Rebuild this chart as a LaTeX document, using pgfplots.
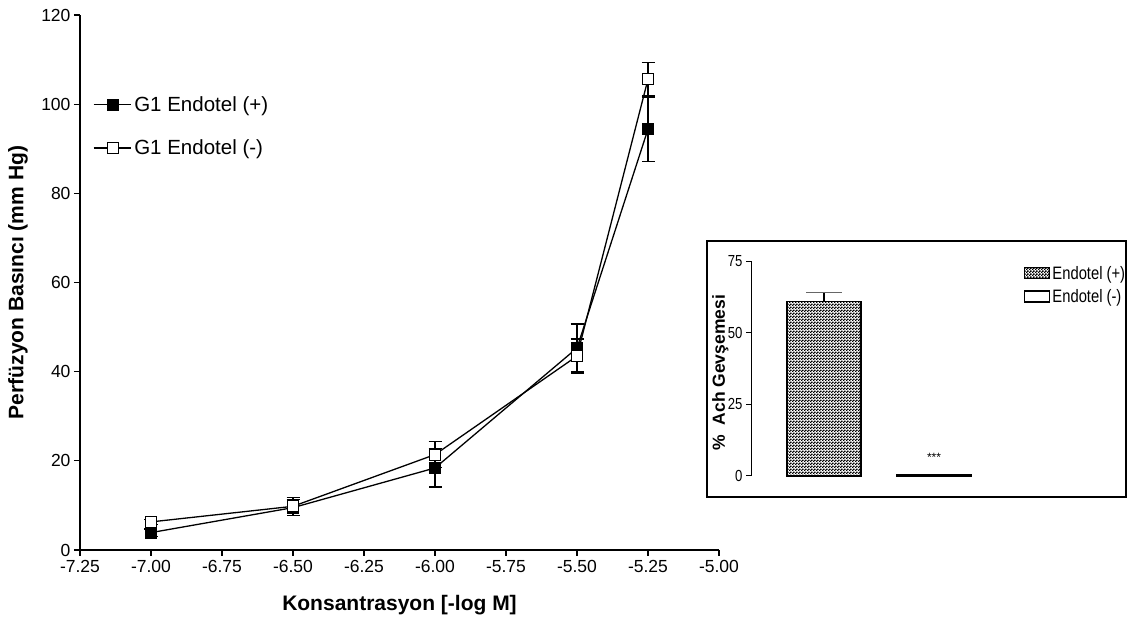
\documentclass[border=0pt]{standalone}
\usepackage{fontspec}
\setmainfont{Liberation Sans}
\newfontfamily\narrow{Liberation Sans}[FakeStretch=0.82]
\usepackage{pgfplots}
\pgfplotsset{compat=1.18}
\usetikzlibrary{patterns}
\pgfdeclarepatternformonly{checker}{\pgfpointorigin}{\pgfpoint{3pt}{3pt}}{\pgfpoint{3pt}{3pt}}{%
  \pgfpathrectangle{\pgfpointorigin}{\pgfpoint{1.8pt}{1.8pt}}%
  \pgfpathrectangle{\pgfpoint{1.5pt}{1.5pt}}{\pgfpoint{1.8pt}{1.8pt}}%
  \pgfusepath{fill}}
\begin{document}
\begin{tikzpicture}
\useasboundingbox (0pt,0pt) rectangle (1128pt,624pt);
\begin{axis}[
  at={(80pt,74pt)}, anchor=south west, scale only axis,
  width=639pt, height=535pt,
  xmin=-7.25, xmax=-5, ymin=0, ymax=120,
  axis x line*=bottom, axis y line*=left,
  axis line style={line width=1.2pt},
  tick align=outside, major tick length=6pt,
  tick style={black, line width=1.2pt},
  xtick={-7.25,-7,-6.75,-6.5,-6.25,-6,-5.75,-5.5,-5.25,-5},
  xticklabels={-7.25,-7.00,-6.75,-6.50,-6.25,-6.00,-5.75,-5.50,-5.25,-5.00},
  ytick={0,20,40,60,80,100,120},
  yticklabels={0,20,40,60,80,100,120},
  tick label style={font=\fontsize{17.5}{17.5}\selectfont},
  xticklabel style={yshift=-1pt},
  xlabel={Konsantrasyon [-log M]},
  ylabel={Perfüzyon Basıncı (mm Hg)},
  xlabel style={font=\bfseries\fontsize{21}{21}\selectfont, at={(axis description cs:0.5,-0.103)}, anchor=center},
  ylabel style={font=\bfseries\fontsize{21}{21}\selectfont, at={(axis description cs:-0.097,0.5)}, anchor=center},
  legend style={draw=none, fill=none, at={(rel axis cs:0.02,0.852)}, anchor=north west,
    font=\fontsize{20.5}{20.5}\selectfont, row sep=23pt, inner sep=0pt,
    nodes={inner xsep=3pt}},
  legend cell align=left,
  legend image code/.code={\draw[#1, mark=none] (0pt,0pt) -- (37pt,0pt);
     \draw[#1, only marks] plot coordinates {(19pt,0pt)};},
  clip=false,
]
\addplot[black, line width=1.3pt, mark=square*, mark size=5.5pt,
  mark options={solid, fill=black, line width=1pt},
  error bars/.cd, y dir=both, y explicit,
  error bar style={line width=1.3pt},
  error mark options={rotate=90, line width=1.3pt, mark size=6.5pt}]
  coordinates {
  (-7.00,3.9) +- (0,0.8)
  (-6.50,9.5) +- (0,1.8)
  (-6.00,18.4) +- (0,4.3)
  (-5.50,45.3) +- (0,5.4)
  (-5.25,94.4) +- (0,7.2)
};
\addlegendentry{G1 Endotel (+)}
\addplot[black, line width=1.3pt, mark=square*, mark size=5.5pt,
  mark options={solid, fill=white, line width=1pt},
  error bars/.cd, y dir=both, y explicit,
  error bar style={line width=1.3pt},
  error mark options={rotate=90, line width=1.3pt, mark size=6.5pt}]
  coordinates {
  (-7.00,6.3) +- (0,0.6)
  (-6.50,9.8) +- (0,2.0)
  (-6.00,21.4) +- (0,2.9)
  (-5.50,43.5) +- (0,3.8)
  (-5.25,105.6) +- (0,3.7)
};
\addlegendentry{G1 Endotel (-)}
\end{axis}
\draw[line width=2.4pt] (707pt,127pt) rectangle (1126pt,383pt);
\begin{axis}[
  at={(751pt,148pt)}, anchor=south west, scale only axis,
  width=293pt, height=215pt,
  xmin=0.336, xmax=3, ymin=0, ymax=75,
  axis x line=none, axis y line*=left,
  axis line style={line width=1pt},
  tick align=outside, major tick length=5pt,
  tick style={black, line width=1pt},
  ytick={0,25,50,75}, yticklabels={0,25,50,75},
  tick label style={font=\narrow\fontsize{16}{16}\selectfont},
  ylabel={\%\ \ Ach Gevşemesi},
  ylabel style={font=\bfseries\fontsize{17.5}{17.5}\selectfont, at={(axis description cs:-0.105,0.48)}, anchor=center},
  ybar, bar width=74pt, bar shift=0pt,
  legend style={draw=none, fill=none, at={(rel axis cs:0.93,0.986)}, anchor=north west,
    font=\narrow\fontsize{18}{18}\selectfont, row sep=5pt, inner sep=0pt,
    nodes={inner xsep=2pt}},
  legend cell align=left,
  legend image code/.code={\draw[#1] (0pt,-5pt) rectangle (25pt,6pt);},
  clip=false,
]
\addplot[draw=black, line width=1.5pt, pattern=checker, pattern color=black,
  error bars/.cd, y dir=plus, y explicit,
  error bar style={line width=1.2pt},
  error mark options={rotate=90, line width=1.5pt, black!60, mark size=18pt}]
  coordinates {(1,60.8) +- (0,3.2)};
\addlegendentry{Endotel (+)}
\addplot[draw=black, fill=white, line width=1.8pt] coordinates {(2,0.4)};
\addlegendentry{Endotel (-)}
\node[font=\fontsize{12}{12}\selectfont] at (axis cs:2,6.5) {***};
\end{axis}
\end{tikzpicture}
\end{document}
